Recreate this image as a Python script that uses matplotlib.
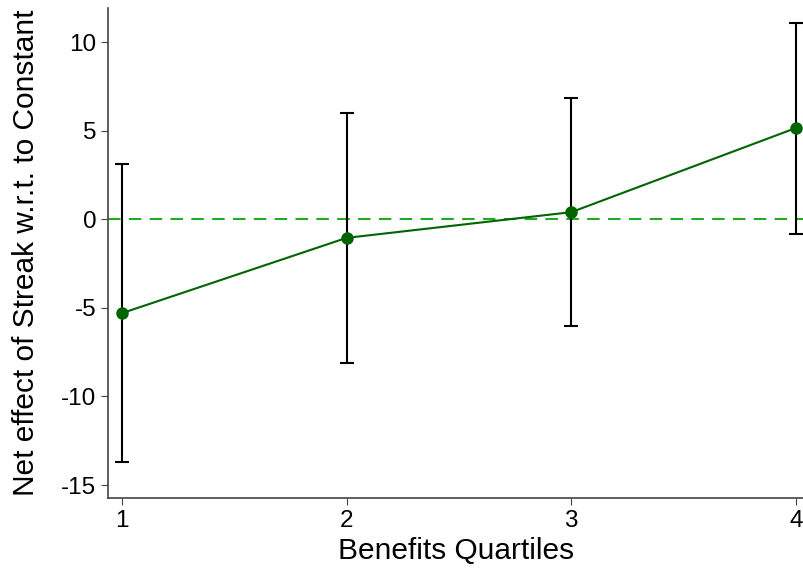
import matplotlib.pyplot as plt
import numpy as np

plt.rcParams["font.family"] = ["Liberation Sans", "DejaVu Sans"]
plt.rcParams["axes.unicode_minus"] = False

quartiles = [1, 2, 3, 4]
effect = [-5.3, -1.05, 0.4, 5.15]
ci_upper = [3.1, 6.0, 6.85, 11.1]
ci_lower = [-13.7, -8.1, -6.05, -0.85]

effect = np.array(effect)
yerr = [effect - np.array(ci_lower), np.array(ci_upper) - effect]

fig = plt.figure(figsize=(8.04, 5.74), dpi=100)
ax = fig.add_axes([0.1343, 0.1324, 0.8657, 0.8536])

ax.axhline(0, color="#22aa22", linestyle=(0, (6, 4)), linewidth=1.5, zorder=1)
ax.errorbar(quartiles, effect, yerr=yerr, fmt="none", ecolor="black",
            elinewidth=1.5, capsize=5, capthick=1.5, zorder=2)
ax.plot(quartiles, effect, color="#006400", linewidth=1.5, marker="o",
        markersize=8, zorder=3)

ax.set_xlim(0.938, 4.036)
ax.set_ylim(-15.73, 11.92)
ax.set_xticks(quartiles)
ax.set_yticks([10, 5, 0, -5, -10, -15])
ax.tick_params(labelsize=17.5, length=5, color="#444444")

ax.spines["top"].set_visible(False)
ax.spines["right"].set_visible(False)
for s in ["left", "bottom"]:
    ax.spines[s].set_color("#444444")
    ax.spines[s].set_linewidth(1.2)

ax.set_xlabel("Benefits Quartiles", fontsize=21.5, labelpad=4)
ax.set_ylabel("Net effect of Streak w.r.t. to Constant", fontsize=21.5, labelpad=15)

fig.savefig("out.png", dpi=100)
